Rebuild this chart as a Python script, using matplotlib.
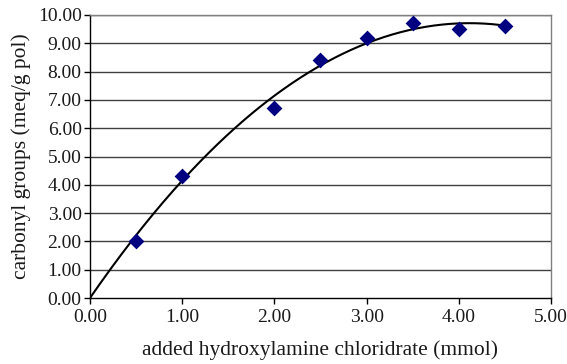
import matplotlib
matplotlib.use('Agg')
import matplotlib.pyplot as plt
import numpy as np

# Carbonyl content vs amount of hydroxylamine chloridrate added
hydroxylamine_mmol = np.array([0.5, 1.0, 2.0, 2.5, 3.0, 3.5, 4.0, 4.5])
carbonyl_meq = np.array([2.0, 4.3, 6.7, 8.4, 9.2, 9.7, 9.5, 9.6])

x_ticks = [0, 1, 2, 3, 4, 5]
y_ticks = [0, 1, 2, 3, 4, 5, 6, 7, 8, 9, 10]

plt.rcParams['font.family'] = ['Liberation Serif', 'DejaVu Serif']

# 2nd order polynomial trendline forced through the origin
A = np.column_stack([hydroxylamine_mmol, hydroxylamine_mmol ** 2])
coef, *_ = np.linalg.lstsq(A, carbonyl_meq, rcond=None)
xfit = np.linspace(0, hydroxylamine_mmol.max(), 200)
yfit = coef[0] * xfit + coef[1] * xfit ** 2

fig = plt.figure(figsize=(5.67, 3.64), dpi=100)
ax = fig.add_axes([0.1587, 0.1813, 0.8131, 0.7775])

ax.plot(xfit, yfit, color='black', lw=1.5, zorder=3)
ax.scatter(hydroxylamine_mmol, carbonyl_meq, marker='D', s=65,
           color='#000080', zorder=4, linewidths=0)

ax.set_xlim(0, 5)
ax.set_ylim(0, 10)
ax.set_xticks(x_ticks)
ax.set_yticks(y_ticks)
ax.set_xticklabels([f'{v:.2f}' for v in x_ticks])
ax.set_yticklabels([f'{v:.2f}' for v in y_ticks])
ax.tick_params(axis='both', labelsize=14, length=4, width=1, direction='out',
               color='black', labelcolor='#1a1a1a')
ax.tick_params(axis='x', pad=4)
ax.tick_params(axis='y', pad=2)

for y in y_ticks[1:]:
    ax.axhline(y, color='#404040', lw=1, zorder=1)

ax.spines['left'].set_color('black')
ax.spines['bottom'].set_color('black')
ax.spines['top'].set_color('#808080')
ax.spines['right'].set_color('#808080')
for s in ax.spines.values():
    s.set_linewidth(1)

ax.set_xlabel('added hydroxylamine chloridrate (mmol)', fontsize=15.5,
              labelpad=10, color='#1a1a1a')
ax.set_ylabel('carbonyl groups (meq/g pol)', fontsize=15.5, labelpad=5,
              color='#1a1a1a')

fig.savefig('out.png', dpi=100)
